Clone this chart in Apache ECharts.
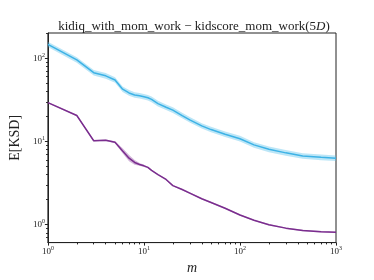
<!DOCTYPE html>
<html>
<head>
<meta charset="utf-8">
<script src="https://cdn.jsdelivr.net/npm/echarts@6/dist/echarts.min.js"></script>
<style>html,body{margin:0;padding:0;background:#fff}#c{width:374px;height:280px}</style>
</head>
<body>
<div id="c"></div>
<script>
// ---- data ----
var mValues = [1,2,3,4,5,6,7,8,9,10,11,12,14,17,20,25,30,40,50,70,100,140,200,300,450,700,1000];
var ksdWithWork = [147,95.5,67,61.5,54.8,42.5,38.3,36.2,35.5,34.5,33.5,32,28.5,25.8,23.8,20.5,18.2,15.4,13.9,12.2,10.8,9.1,8.05,7.3,6.7,6.45,6.28];
var ksdWithWorkHi = [158,103,72.3,66.4,59.2,45.9,41.4,39.1,38.3,37.3,36.2,34.6,30.8,27.9,25.7,22.1,19.7,16.6,15.0,13.2,11.7,9.8,8.7,7.9,7.24,6.97,6.78];
var ksdWithWorkLo = [136,88.4,62,56.9,50.7,39.4,35.5,33.5,32.9,31.9,31,29.6,26.4,23.9,22,19,16.9,14.3,12.9,11.3,10,8.43,7.45,6.76,6.2,5.97,5.81];
var ksdMomWork = [29.3,20.5,10.2,10.35,9.8,7.7,6.3,5.6,5.3,5.1,4.88,4.5,4.0,3.5,2.95,2.65,2.4,2.05,1.85,1.58,1.31,1.13,1.0,0.91,0.852,0.822,0.81];
var ksdMomWorkHi = [29.9,20.9,10.4,10.55,10.05,8.3,6.9,6.0,5.5,5.25,4.98,4.6,4.08,3.57,3.01,2.7,2.45,2.09,1.89,1.61,1.335,1.15,1.02,0.928,0.869,0.838,0.826];
var ksdMomWorkLo = [28.7,20.1,10.0,10.15,9.55,7.2,5.8,5.25,5.1,4.95,4.78,4.41,3.92,3.43,2.89,2.6,2.35,2.01,1.81,1.55,1.285,1.11,0.98,0.892,0.835,0.806,0.794];
var xMajorExp = [0,1,2,3];
var yMajorExp = [0,1,2];
var xRange = [1,1000];
var yRange = [0.61,201];

var L = Math.log10;
function minorList(lo, hi){ var out=[]; for(var e=-2;e<4;e++){ for(var k=2;k<10;k++){ var v=k*Math.pow(10,e); if(v>=lo && v<=hi) out.push(L(v)); } } return out; }
function pts(ys){ return mValues.map(function(m,i){ return [L(m), L(ys[i])]; }); }
function band(hi, lo, color){
  return {
    type:'custom', silent:true, clip:true, z:1,
    data:[0],
    renderItem:function(params, api){
      var up = mValues.map(function(m,i){ return api.coord([L(m), L(hi[i])]); });
      var dn = mValues.map(function(m,i){ return api.coord([L(m), L(lo[i])]); }).reverse();
      return {type:'polygon', shape:{points: up.concat(dn)}, style:{fill:color}};
    }
  };
}
var FONT = 'Liberation Serif';
var labelRich = { b:{fontFamily:FONT, fontSize:9, color:'#222', lineHeight:12}, s:{fontFamily:FONT, fontSize:6, color:'#222', verticalAlign:'top', lineHeight:12} };
function fmt(v){ return '{b|10}{s|' + Math.round(v) + '}'; }

var chart = echarts.init(document.getElementById('c'), null, {renderer:'canvas'});
chart.setOption({
  animation:false,
  backgroundColor:'#fff',
  title:{
    text:'{a|kidiq_with_mom_work − kidscore_mom_work(5}{i|D}{a|)}',
    left:189, textAlign:'center', top:15,
    textStyle:{ fontWeight:'normal', rich:{ a:{fontFamily:FONT, fontSize:13, fontWeight:'normal', color:'#222'}, i:{fontFamily:FONT, fontSize:13, fontWeight:'normal', fontStyle:'italic', color:'#222'} } }
  },
  grid:{left:46, right:38, top:33, bottom:31, show:true, borderColor:'#222', borderWidth:1, backgroundColor:'transparent'},
  xAxis:[{
    type:'value', min:L(xRange[0]), max:L(xRange[1]),
    name:'m', nameLocation:'middle', nameGap:17,
    nameTextStyle:{fontFamily:FONT, fontSize:14, fontStyle:'italic', color:'#222'},
    axisLine:{onZero:false, lineStyle:{color:'#222', width:1}},
    axisTick:{customValues:xMajorExp, length:3, lineStyle:{color:'#222'}},
    axisLabel:{customValues:xMajorExp, formatter:fmt, rich:labelRich, margin:3},
    splitLine:{show:false}
  },{
    type:'value', min:L(xRange[0]), max:L(xRange[1]), position:'bottom',
    axisLine:{show:false, onZero:false},
    axisTick:{customValues:minorList(xRange[0], xRange[1]), length:1.8, lineStyle:{color:'#222'}},
    axisLabel:{show:false}, splitLine:{show:false}
  }],
  yAxis:[{
    type:'value', min:L(yRange[0]), max:L(yRange[1]),
    name:'E[KSD]', nameLocation:'middle', nameGap:20,
    nameTextStyle:{fontFamily:FONT, fontSize:14, color:'#222'},
    axisLine:{show:true, onZero:false, lineStyle:{color:'#222', width:1}},
    axisTick:{show:true, customValues:yMajorExp, length:3, lineStyle:{color:'#222'}},
    axisLabel:{customValues:yMajorExp, formatter:fmt, rich:labelRich, margin:3},
    splitLine:{show:false}
  },{
    type:'value', min:L(yRange[0]), max:L(yRange[1]), position:'left',
    axisLine:{show:false, onZero:false},
    axisTick:{show:true, customValues:minorList(yRange[0], yRange[1]), length:1.8, lineStyle:{color:'#222'}},
    axisLabel:{show:false}, splitLine:{show:false}
  }],
  series:[
    band(ksdWithWorkHi, ksdWithWorkLo, 'rgba(80,190,235,0.38)'),
    band(ksdMomWorkHi, ksdMomWorkLo, 'rgba(125,45,145,0.35)'),
    {type:'line', data:pts(ksdWithWork), showSymbol:false, lineStyle:{color:'#3db2e6', width:1.5}, z:3},
    {type:'line', data:pts(ksdMomWork), showSymbol:false, lineStyle:{color:'#7a2d8e', width:1.5}, z:3}
  ]
});
</script>
</body>
</html>
